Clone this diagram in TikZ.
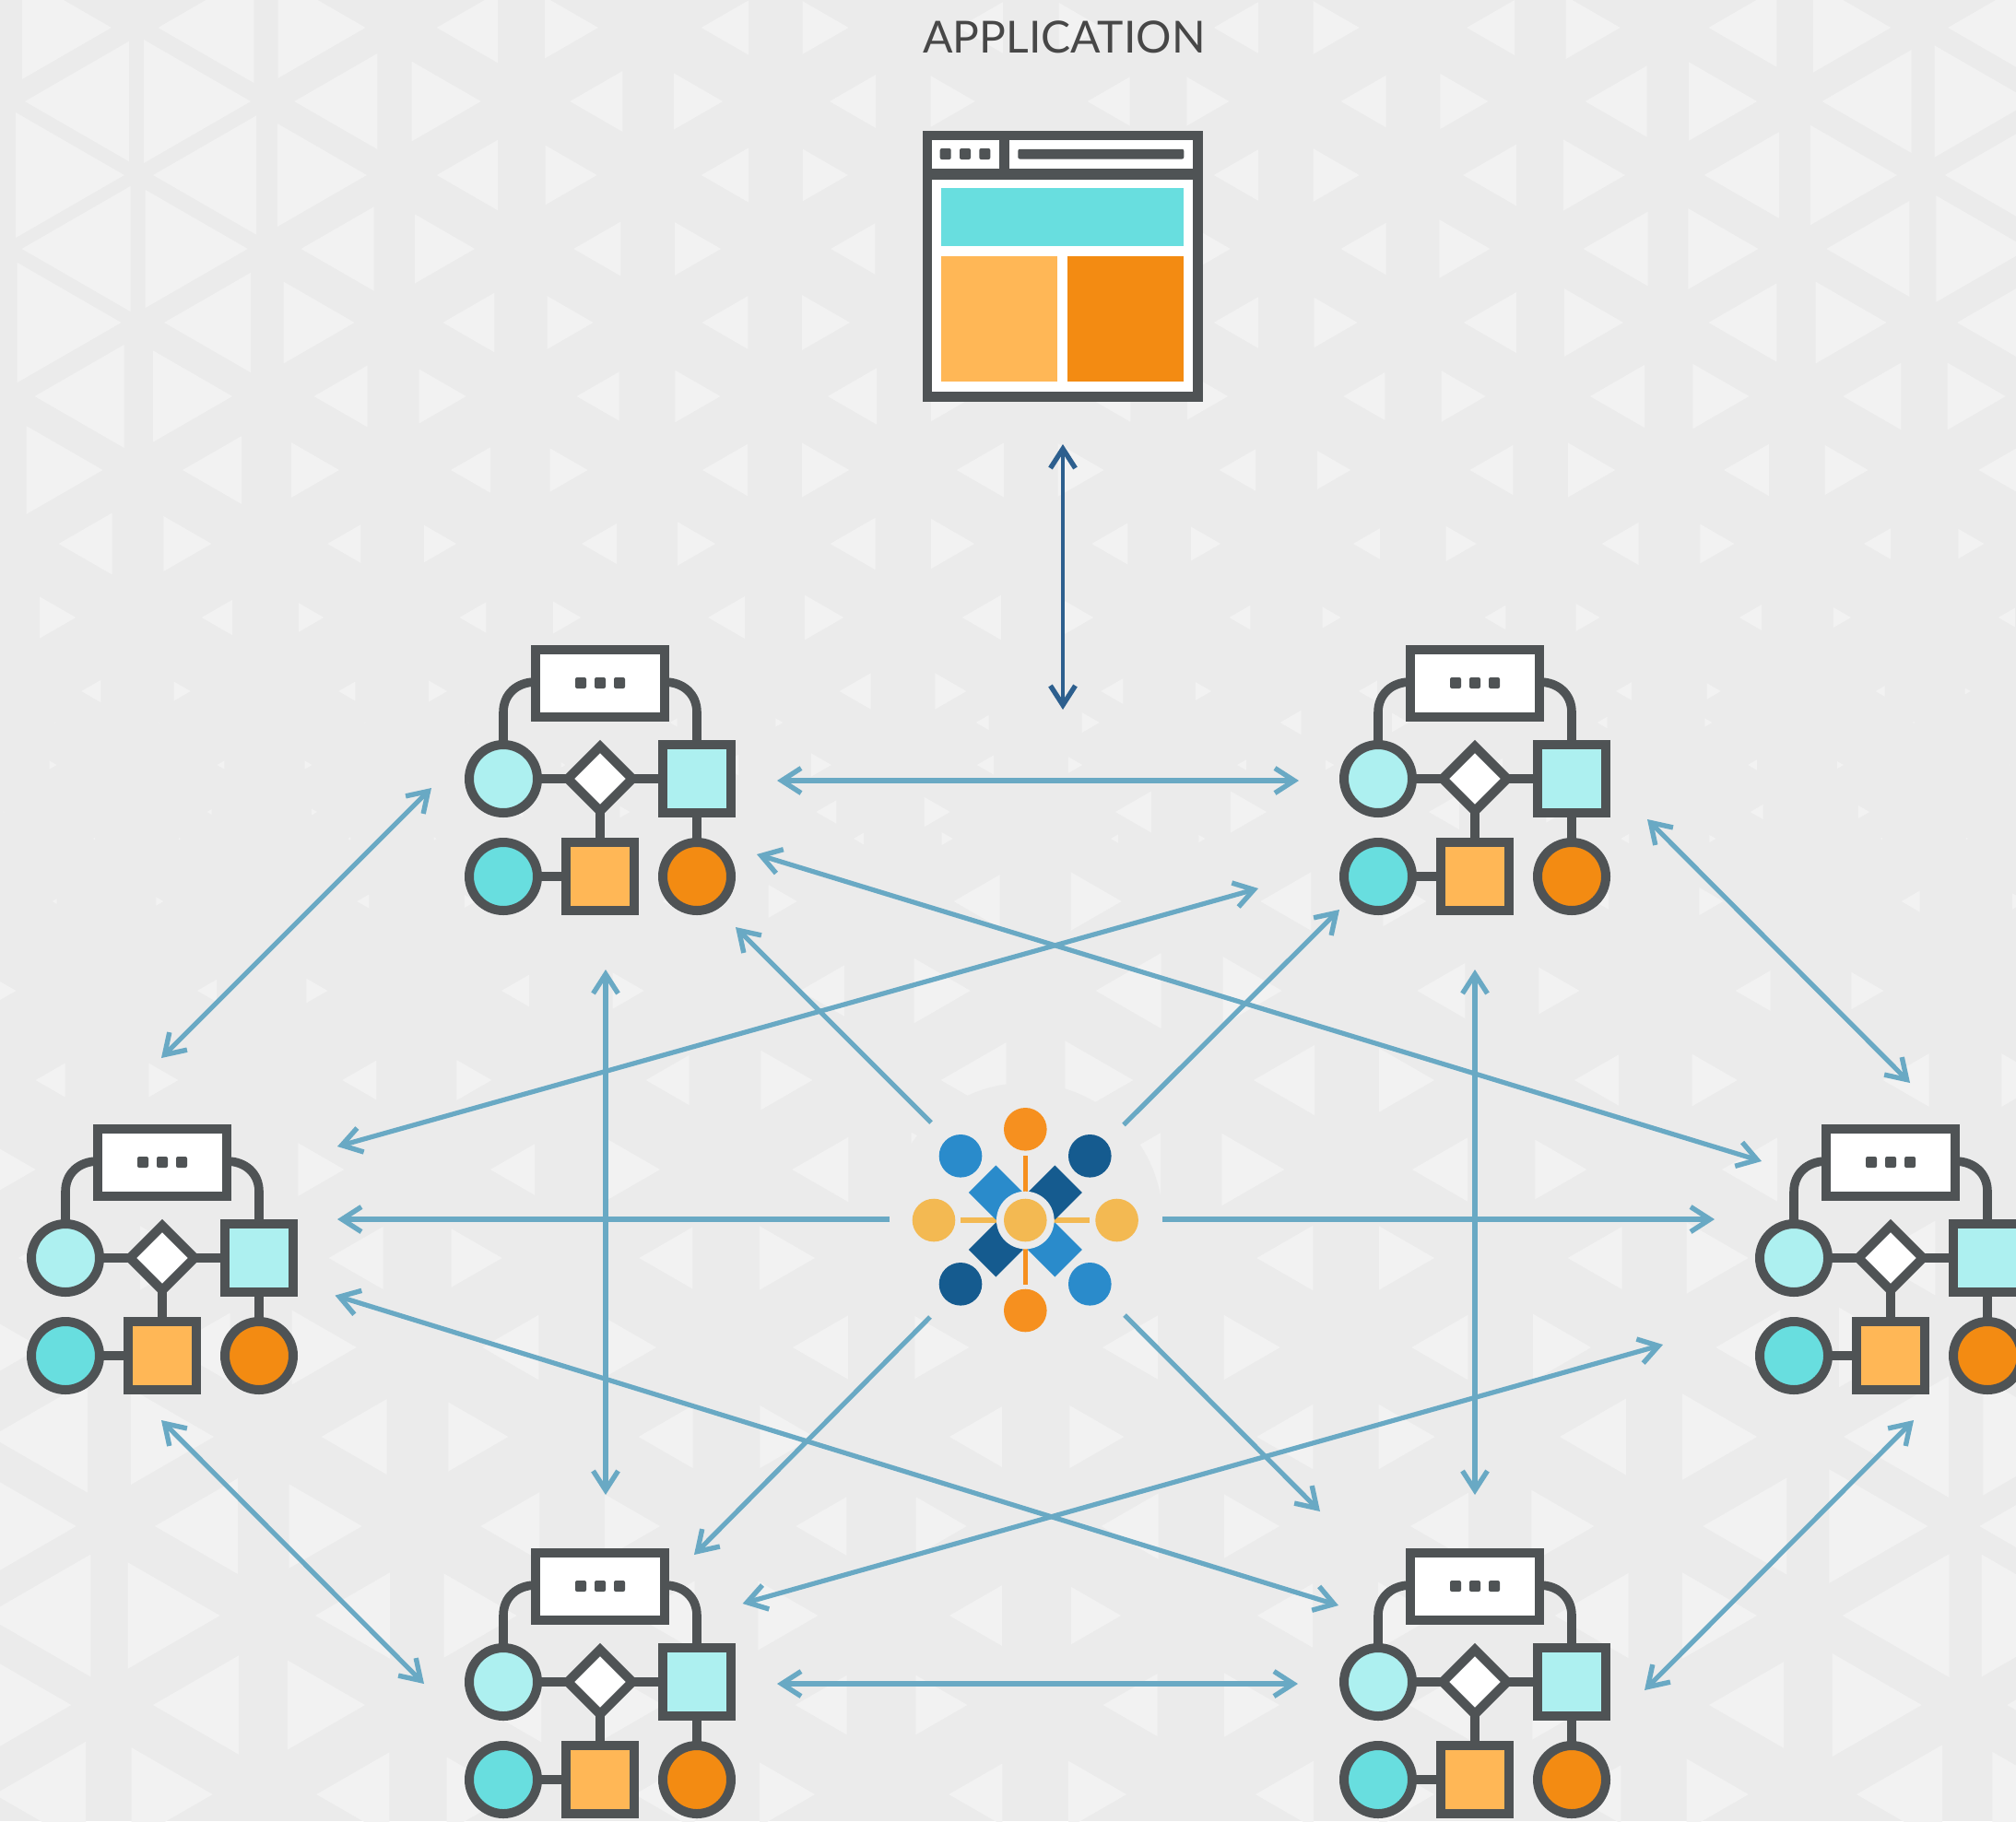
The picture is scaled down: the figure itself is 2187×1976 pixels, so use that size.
\documentclass[tikz,border=0pt]{standalone}
\usepackage{fontspec}
\setmainfont{Lato}
\usetikzlibrary{arrows.meta}
\definecolor{bgc}{HTML}{EBEBEB}
\definecolor{trc}{HTML}{F2F2F2}
\definecolor{dark}{HTML}{4F5355}
\definecolor{cyanl}{HTML}{ADF0F0}
\definecolor{cyanm}{HTML}{68DEDF}
\definecolor{orl}{HTML}{FFB756}
\definecolor{ord}{HTML}{F38B12}
\definecolor{linkc}{HTML}{69A9C4}
\definecolor{navy}{HTML}{2D5F8E}
\definecolor{lgor}{HTML}{F6901F}
\definecolor{lgyl}{HTML}{F3B952}
\definecolor{lgbl}{HTML}{2A8BCB}
\definecolor{lgdk}{HTML}{155B8F}
\newcommand{\TriRow}[5]{%
  \foreach \wa/\wb [count=\ii from 0] in {#5} {%
    \pgfmathsetmacro{\gx}{#2+#3*\ii}%
    \pgfmathsetmacro{\cl}{\gx-#4}%
    \pgfmathsetmacro{\cr}{\gx+#4}%
    \fill[trc] ({\cl-2*\wa/3},#1) -- ({\cl+\wa/3},{#1-0.577*\wa}) -- ({\cl+\wa/3},{#1+0.577*\wa}) -- cycle;
    \fill[trc] ({\cr+2*\wb/3},#1) -- ({\cr-\wb/3},{#1-0.577*\wb}) -- ({\cr-\wb/3},{#1+0.577*\wb}) -- cycle;
  }%
}
\newcommand{\LogoDia}[3]{\fill[#1] (#2,#3) ++(0,-29.5) -- ++(29.5,29.5) -- ++(-29.5,29.5) -- ++(-29.5,-29.5) -- cycle;}
\tikzset{
  x=0.5pt,y=-0.5pt,
  ico/.style={draw=dark,line width=5pt,line join=miter},
  wire/.style={draw=dark,line width=4.8pt},
  link/.style={draw=linkc,line width=2.6pt},
  both/.style={{Straight Barb[length=10.5pt,width=13.5pt,line width=2.7pt]}-{Straight Barb[length=10.5pt,width=13.5pt,line width=2.7pt]}},
  one/.style={-{Straight Barb[length=10.5pt,width=13.5pt,line width=2.7pt]}},
  flowicon/.pic={
    \draw[wire] (-70,-105) .. controls (-90,-105) and (-105,-92) .. (-105,-72) -- (-105,-37);
    \draw[wire] (70,-105) .. controls (90,-105) and (105,-92) .. (105,-72) -- (105,-37);
    \draw[wire] (-105,0) -- (105,0);
    \draw[wire] (0,0) -- (0,70);
    \draw[wire] (105,0) -- (105,106);
    \draw[wire] (-105,106) -- (0,106);
    \draw[ico,fill=white] (-70,-140) rectangle (70,-67);
    \foreach \dx in {-21,0,21} \fill[dark,rounded corners=1pt] ({\dx-6},-110) rectangle ({\dx+6},-98);
    \draw[ico,fill=cyanl] (-105,0) circle[radius=37];
    \draw[ico,fill=white] (0,-35) -- (35,0) -- (0,35) -- (-35,0) -- cycle;
    \draw[ico,fill=cyanl] (68,-37) rectangle (142,37);
    \draw[ico,fill=cyanm] (-105,106) circle[radius=37];
    \draw[ico,fill=orl] (-37,69) rectangle (37,143);
    \draw[ico,fill=ord] (105,106) circle[radius=37];
  }
}
\begin{document}
\begin{tikzpicture}
\useasboundingbox (0,0) rectangle (2187,1976);
\begin{scope}
\clip (0,0) rectangle (2187,1976);
\fill[bgc] (0,0) rectangle (2187,1976);
% top triangle field
\TriRow{30}{10}{277}{46.2}{100/97,104/95,66/58,51/50,48/47,48/50,52/59,74/84,100/100}
\TriRow{110}{148.5}{277}{46.2}{113/116,90/75,57/53,50/48,46/46,49/52,67/74,97/105}
\TriRow{190}{10}{277}{46.2}{100/118,112/97,66/56,51/49,50/50,48/50,58/67,81/94,105/100}
\TriRow{270}{148.5}{277}{46.2}{118/111,79/65,51/50,48/48,48/48,49/55,70/76,90/100}
\TriRow{350}{10}{277}{46.2}{100/113,94/77,56/50,50/52,50/50,48/47,57/64,74/77,85/100}
\TriRow{430}{148.5}{277}{46.2}{97/86,58/51,46/49,53/47,48/44,45/48,59/61,63/63}
\TriRow{510}{10}{277}{46.2}{80/83,64/52,43/41,49/51,51/50,39/36,47/51,49/47,50/50}
\TriRow{590}{148.5}{277}{46.2}{58/52,36/35,38/41,49/47,39/32,29/33,40/37,29/28}
\TriRow{670}{10}{277}{46.2}{39/39,33/27,29/30,40/42,42/33,23/20,23/26,24/19,18/15}
\TriRow{750}{148.5}{277}{46.2}{21/18,18/20,10/10,34/34,24/17,20/20,17/15,10/6}
\TriRow{830}{10}{277}{46.2}{5/8,8/8,5/5,20/22,18/15,10/9,12/12,10/7,1/1}
\TriRow{910}{148.5}{277}{46.2}{2/2,3/3,2/2,11/12,8/7,2/2,9/7,2/2}
% lower triangle field
\TriRow{784}{116}{336}{56}{1/1,1/1,8/8,14/19,23/18,11/8,2/2}
\TriRow{881}{-52}{336}{56}{1/1,5/6,10/11,22/28,39/39,33/20,14/12}
\TriRow{978}{116}{336}{56}{5/8,13/12,20/31,50/55,55/47,15/26,20/15}
\TriRow{1075}{-52}{336}{56}{20/20,21/23,30/34,48/61,71/64,52/44,38/35,35/1}
\TriRow{1172}{116}{336}{56}{32/32,37/38,47/56,71/74,66/60,48/49,50/50}
\TriRow{1269}{-52}{336}{56}{52/52,50/50,48/60,61/70,69/68,60/56,60/60,60/1}
\TriRow{1365}{116}{336}{56}{60/60,59/55,58/60,60/60,61/60,59/67,70/70}
\TriRow{1462}{-52}{336}{56}{60/60,65/70,61/54,60/59,60/61,61/63,70/75,75/1}
\TriRow{1559}{116}{336}{56}{105/90,71/65,59/59,57/59,61/61,72/81,114/110}
\TriRow{1656}{-52}{336}{56}{110/118,90/79,64/60,55/55,62/60,63/68,91/107,145/1}
\TriRow{1753}{116}{336}{56}{115/100,81/79,65/65,57/54,60/63,80/81,116/115}
\TriRow{1850}{-52}{336}{56}{110/110,93/84,70/65,56/56,59/60,65/65,81/97,100/1}
\TriRow{1947}{116}{336}{56}{99/88,79/70,65/60,58/63,63/60,55/67,93/80}
\fill[bgc] (1112.3,1324) circle[radius=149];
% title
\node[anchor=base,text=black!72,font=\fontsize{24}{28}\selectfont,inner sep=0pt] (apptitle) at (1154.5,57) {APPLICATION};
% application window
\fill[dark] (1001,142.3) rectangle (1305,435.7);
\fill[white] (1010.5,152) rectangle (1084,182.5);
\fill[white] (1094.5,152) rectangle (1294.3,182.5);
\fill[white] (1010.5,194.5) rectangle (1294.3,424.5);
\foreach \dx in {1025.7,1047,1068.3} \fill[dark,rounded corners=1pt] ({\dx-6},161) rectangle ({\dx+6},173);
\fill[dark,rounded corners=1pt] (1104.3,161.8) rectangle (1284.3,172.5);
\fill[cyanm] (1020.7,204.3) rectangle (1284,267.3);
\fill[orl] (1020.7,277.7) rectangle (1146.7,414.3);
\fill[ord] (1157.7,277.7) rectangle (1284,414.3);
% process icons
\pic (tl) at (651,845) {flowicon};
\pic (tr) at (1600,845) {flowicon};
\pic (ml) at (176,1365) {flowicon};
\pic (mr) at (2051,1365) {flowicon};
\pic (bl) at (651,1825) {flowicon};
\pic (br) at (1600,1825) {flowicon};
% central logo
\begin{scope}[shift={(1112.3,1324)}]
\draw[lgor,line width=2.8pt] (0,-70) -- (0,70);
\draw[lgyl,line width=2.8pt] (-70,0) -- (70,0);
\LogoDia{lgbl}{-32}{-30}
\LogoDia{lgdk}{32}{-30}
\LogoDia{lgdk}{-32}{32}
\LogoDia{lgbl}{32}{32}
\fill[bgc] (0,0) circle[radius=31.3];
\fill[lgyl] (0,0) circle[radius=23.3];
\fill[lgor] (0,-98.7) circle[radius=23.3];
\fill[lgor] (0,98) circle[radius=23.3];
\fill[lgyl] (-99.3,0) circle[radius=23.3];
\fill[lgyl] (99.3,0) circle[radius=23.3];
\fill[lgbl] (-70.3,-69.7) circle[radius=23.3];
\fill[lgdk] (70,-69.7) circle[radius=23.3];
\fill[lgdk] (-70.3,69.3) circle[radius=23.3];
\fill[lgbl] (70,69.3) circle[radius=23.3];
\end{scope}
% connector ends
\coordinate (appS) at (1153,482);
\coordinate (netN) at (1153,770);
\coordinate (tlE) at (843,847);
\coordinate (trW) at (1409,847);
\coordinate (blE) at (843,1827);
\coordinate (brW) at (1408,1827);
\coordinate (mlE) at (366,1323);
\coordinate (hubW) at (965,1323);
\coordinate (hubE) at (1261,1323);
\coordinate (mrW) at (1860,1323);
\coordinate (tlS) at (657,1052);
\coordinate (blN) at (657,1622);
\coordinate (trS) at (1600,1052);
\coordinate (brN) at (1600,1622);
\coordinate (tlSW) at (468,855);
\coordinate (mlN) at (175,1148);
\coordinate (mlS) at (175,1541);
\coordinate (blW) at (460,1827);
\coordinate (trSE) at (1787,889);
\coordinate (mrN) at (2072,1175);
\coordinate (mrS) at (2076,1541);
\coordinate (brE) at (1784,1834);
\coordinate (tlLow) at (821,927);
\coordinate (mrUp) at (1911,1260);
\coordinate (trLow) at (1365,964);
\coordinate (mlUp) at (366,1244);
\coordinate (mlLow) at (363.5,1405.6);
\coordinate (brUp) at (1452,1742);
\coordinate (blUp) at (805.6,1740);
\coordinate (mrLow) at (1804,1459);
\coordinate (hubUL) at (1010,1218);
\coordinate (tlH) at (798,1006);
\coordinate (hubUR) at (1219,1220.5);
\coordinate (trH) at (1453,987);
\coordinate (hubLL) at (1009,1429);
\coordinate (blH) at (753,1687);
\coordinate (hubLR) at (1220,1427);
\coordinate (brH) at (1432,1640);
% connectors
\draw[both,draw=navy,line width=2.4pt] (appS) -- (netN);
\draw[link,both] (tlE) -- (trW);
\draw[link,both] (blE) -- (brW);
\draw[link,one] (hubW) -- (mlE);
\draw[link,one] (hubE) -- (mrW);
\draw[link,both] (tlS) -- (blN);
\draw[link,both] (trS) -- (brN);
\draw[link,both] (tlSW) -- (mlN);
\draw[link,both] (mlS) -- (blW);
\draw[link,both] (trSE) -- (mrN);
\draw[link,both] (mrS) -- (brE);
\draw[link,both] (tlLow) -- (mrUp);
\draw[link,both] (trLow) -- (mlUp);
\draw[link,both] (mlLow) -- (brUp);
\draw[link,both] (blUp) -- (mrLow);
\draw[link,one] (hubUL) -- (tlH);
\draw[link,one] (hubUR) -- (trH);
\draw[link,one] (hubLL) -- (blH);
\draw[link,one] (hubLR) -- (brH);
\end{scope}
\end{tikzpicture}
\end{document}
